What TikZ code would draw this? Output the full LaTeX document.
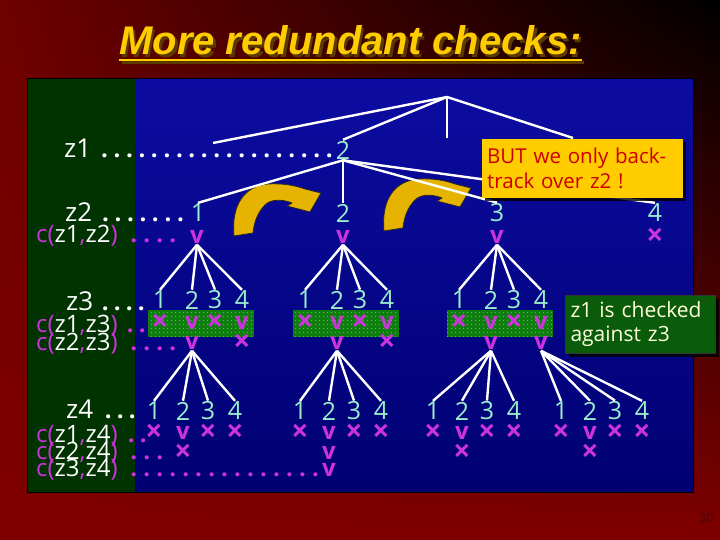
\documentclass[tikz,border=0pt]{standalone}
\usepackage{fontspec}
\setmainfont{Open Sans}
\newfontfamily\titlefont{Liberation Sans}
\usetikzlibrary{patterns.meta,shadows,shadings}
\definecolor{numc}{HTML}{99EECC}
\definecolor{magc}{HTML}{CC33DD}
\definecolor{gold}{HTML}{FFCC00}
\definecolor{arrowgold}{HTML}{E6B400}
\definecolor{bgred}{HTML}{800000}
\definecolor{bgredtop}{HTML}{6E0000}
\definecolor{panblue}{HTML}{0C0CA2}
\definecolor{panbluelow}{HTML}{000072}
\definecolor{pangreen}{HTML}{003300}
\definecolor{boxgreen}{HTML}{0E7E0E}
\definecolor{dotc}{HTML}{C8D060}
\definecolor{calgreen}{HTML}{0A5C0A}
\definecolor{calred}{HTML}{CC0000}
\definecolor{caltext}{HTML}{FFFFDD}
\definecolor{titleshadow}{HTML}{5A3A00}
\definecolor{pagenum}{HTML}{4A0505}
\newcommand\mydotfill[2]{\hbox to #1{\leaders\hbox to #2{\hss.\hss}\hfill}}
\newcommand\cz[2]{{\color{magc}c(}z#1{\color{magc},}z#2{\color{magc})}}
\begin{document}
\begin{tikzpicture}[x=1pt,y=-1pt,
  num/.style={text=numc, font=\fontsize{25}{25}\selectfont, inner sep=1pt},
  chk/.style={text=magc, font=\bfseries\fontsize{24}{24}\selectfont, inner sep=1pt},
  xm/.style={text=magc, font=\bfseries\fontsize{30}{30}\selectfont, inner sep=0pt},
  lbl/.style={text=white, font=\fontsize{24}{24}\selectfont, inner sep=0pt, anchor=base west},
  zlbl/.style={text=white, font=\fontsize{26}{26}\selectfont, inner sep=0pt, anchor=base west},
  wdots/.style={text=white, font=\bfseries\fontsize{24}{24}\selectfont, inner sep=0pt, anchor=base west},
  mdots/.style={text=magc, font=\bfseries\fontsize{24}{24}\selectfont, inner sep=0pt, anchor=base west},
  edge/.style={draw=white, line width=2.4},
  bigarrow/.style={fill=arrowgold, draw=black!85, line width=0.8, line join=round},
  chkbox/.style={fill=boxgreen},
  chkdots/.style={pattern={Dots[distance=4pt,radius=0.55pt]}, pattern color=dotc}
]
\useasboundingbox (0,0) rectangle (720,540);
% background
\shade[upper left=bgredtop, upper right=black, lower left=bgred, lower right=bgred] (0,0) rectangle (720,540);
\shade[top color=panblue, bottom color=panbluelow] (27,79) rectangle (693,492);
\fill[pangreen] (27,79) rectangle (135,492);
\draw[black, line width=1] (27,79) rectangle (693,492);
% title
\node[font=\titlefont\bfseries\itshape\fontsize{40}{40}\selectfont, text=titleshadow, anchor=base, inner sep=0pt] (titlesh) at (353,57.5) {More redundant checks:};
\node[font=\titlefont\bfseries\itshape\fontsize{40}{40}\selectfont, text=gold, anchor=base, inner sep=0pt] (title) at (350.5,55) {More redundant checks:};
\draw[titleshadow, line width=2.5] ([xshift=2.5pt,yshift=-7.5pt]title.base west) -- ([xshift=2.5pt,yshift=-7.5pt]title.base east);
\draw[gold, line width=2.5] ([yshift=-5pt]title.base west) -- ([yshift=-5pt]title.base east);
% curved arrows
\foreach \sx/\sy in {0/0,150/-5}{
\begin{scope}[shift={(\sx,\sy)}]
\filldraw[bigarrow] (234,236) .. controls (231,204) and (245,186) .. (268,184)
  .. controls (284,183) and (297,186) .. (305,189) -- (321,193) -- (310,212) -- (287,206) -- (292,203)
  .. controls (282,199) and (271,199) .. (265,205) .. controls (258,212) and (254,222) .. (253,233) -- cycle;
\end{scope}
}
% z1 row
\node[zlbl] (z1lab) at (64,158) {z1};
\node[wdots] (z1dots) at (98,158) {\mydotfill{238pt}{12.5pt}};
\node[num] (a2) at (343,150) {2};
\coordinate (root) at (447,97);
\coordinate (a1) at (213,143);
\coordinate (a3) at (447,138);
\coordinate (a4) at (573,138);
\draw[edge] (root) -- (a1);
\draw[edge] (root) -- (a2.north);
\draw[edge] (root) -- (a3);
\draw[edge] (root) -- (a4);
% z2 row
\node[zlbl] (z2lab) at (65,222) {z2};
\node[wdots] (z2dots) at (99,222) {\mydotfill{88pt}{12.5pt}};
\node[lbl] (c12) at (36,242) {\cz{1}{2}};
\node[mdots] (c12dots) at (127,243) {\mydotfill{54pt}{13pt}};
\node[num] (b1) at (198,213) {1};
\node[num] (b2) at (343,213) {2};
\node[num] (b3) at (497,213) {3};
\node[num] (b4) at (655,213) {4};
\node[chk] (bc1) at (197,237) {v};
\node[chk] (bc2) at (343,237) {v};
\node[chk] (bc3) at (497,237) {v};
\node[xm] (bc4) at (655,237) {×};
\foreach \i in {1,...,4} \draw[edge] (a2.south) -- (b\i.north);
% z3 row
\node[zlbl] (z3lab) at (66,310) {z3};
\node[wdots] (z3dots) at (99,310) {\mydotfill{48pt}{12pt}};
\node[lbl] (c13) at (36,332) {\cz{1}{3}};
\node[mdots] (c13dots) at (124,332) {\mydotfill{24pt}{12pt}};
\node[lbl] (c23) at (36,350) {\cz{2}{3}};
\node[mdots] (c23dots) at (127,350) {\mydotfill{54pt}{13pt}};
\foreach \g/\gx/\p in {A/192/bc1,B/337/bc2,C/491/bc3}{
  \fill[chkbox] (\gx-44,310) rectangle (\gx+62,337);
  \fill[chkdots] (\gx-44,310) rectangle (\gx+62,337);
  \foreach \i/\dx in {1/-32,2/0,3/23,4/50}
    \node[num] (c\g\i) at (\gx+\dx,300) {\i};
  \foreach \i in {1,...,4} \draw[edge] (\p.south) -- (c\g\i.north);
  \node[xm] (k\g1) at (\gx-32,323) {×};
  \node[chk] (k\g2) at (\gx,323) {v};
  \node[xm] (k\g3) at (\gx+23,323) {×};
  \node[chk] (k\g4) at (\gx+50,323) {v};
}
\node[chk] (dA2) at (192,343) {v};
\node[xm] (dA4) at (242,343) {×};
\node[chk] (dB2) at (337,343) {v};
\node[xm] (dB4) at (387,343) {×};
\node[chk] (dC2) at (491,343) {v};
\node[chk] (dC4) at (541,343) {v};
% z4 row
\node[zlbl] (z4lab) at (66,418) {z4};
\node[wdots] (z4dots) at (102,418) {\mydotfill{36pt}{12pt}};
\node[lbl] (c14) at (36,442) {\cz{1}{4}};
\node[mdots] (c14dots) at (125,442) {\mydotfill{24pt}{12pt}};
\node[lbl] (c24) at (36,459) {\cz{2}{4}};
\node[mdots] (c24dots) at (127,459) {\mydotfill{39pt}{13pt}};
\node[lbl] (c34) at (36,476) {\cz{3}{4}};
\node[mdots] (c34dots) at (127,476) {\mydotfill{196pt}{13pt}};
\foreach \g/\gx/\p in {P/183/dA2,Q/329/dB2,R/462/dC2,S/590/dC4}{
  \foreach \i/\dx in {1/-29,2/0,3/25,4/52}
    \node[num] (e\g\i) at (\gx+\dx,411) {\i};
  \foreach \i in {1,...,4} \draw[edge] (\p.south) -- (e\g\i.north);
  \node[xm] (f\g1) at (\gx-29,433) {×};
  \node[chk] (f\g2) at (\gx,433) {v};
  \node[xm] (f\g3) at (\gx+25,433) {×};
  \node[xm] (f\g4) at (\gx+52,433) {×};
}
\node[xm] (gP) at (183,453) {×};
\node[chk] (gQ) at (329,453) {v};
\node[xm] (gR) at (462,453) {×};
\node[xm] (gS) at (590,453) {×};
\node[chk] (hQ) at (329,470) {v};
% callouts
\node[anchor=north west, fill=gold, text=calred, font=\fontsize{20.5}{25}\selectfont,
  minimum width=201pt, minimum height=59pt, text width=191pt, inner sep=5pt, align=left,
  drop shadow={shadow xshift=3pt, shadow yshift=-3pt, fill=black, opacity=0.8}] (but) at (482,139)
  {BUT we only back-\\track over z2 !};
\node[anchor=north west, fill=calgreen, draw=black!80, line width=1, text=caltext, font=\fontsize{21}{24}\selectfont,
  minimum width=150pt, minimum height=58pt, text width=140pt, inner sep=5pt, align=left,
  drop shadow={shadow xshift=3pt, shadow yshift=-3pt, fill=black, opacity=0.8}] (z1note) at (565,295)
  {z1 is checked\\against z3};
% page number
\node[text=pagenum, font=\fontsize{13}{13}\selectfont, inner sep=0pt] (pnum) at (706,518) {30};
\end{tikzpicture}
\end{document}
